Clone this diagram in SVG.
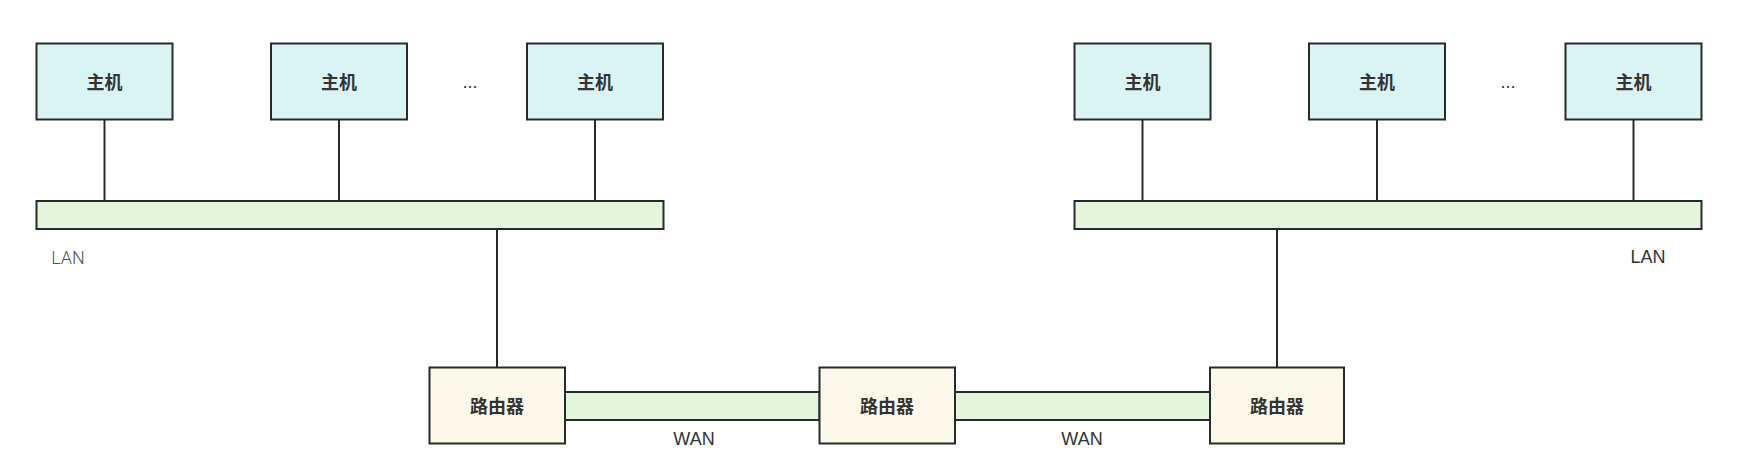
<svg xmlns="http://www.w3.org/2000/svg" width="1752" height="476" viewBox="0 0 1752 476">
<style>
.host{fill:#daf4f4;stroke:#262b2e;stroke-width:2}
.bar{fill:#e4f5dc;stroke:#262b2e;stroke-width:2}
.router{fill:#fcf8ea;stroke:#262b2e;stroke-width:2}
.lbl{font-family:"Noto Sans CJK SC","Noto Sans",sans-serif;font-size:18px;font-weight:600;fill:#333;text-anchor:middle;dominant-baseline:central}
.en{font-family:"Liberation Sans","Noto Sans",sans-serif;font-size:18px;fill:#333;text-anchor:middle;dominant-baseline:central}
.light{font-family:Roboto,"Liberation Sans",sans-serif;fill:#555;font-weight:300}
.conn line{stroke:#2a2a2a;stroke-width:2}
</style>
<rect width="1752" height="476" fill="#ffffff"/>
<g class="conn" id="connectors">
<line x1="104.5" y1="119.5" x2="104.5" y2="201"/>
<line x1="339" y1="119.5" x2="339" y2="201"/>
<line x1="595" y1="119.5" x2="595" y2="201"/>
<line x1="497" y1="229" x2="497" y2="367.5"/>
<line x1="1142.5" y1="119.5" x2="1142.5" y2="201"/>
<line x1="1377" y1="119.5" x2="1377" y2="201"/>
<line x1="1633.5" y1="119.5" x2="1633.5" y2="201"/>
<line x1="1277" y1="229" x2="1277" y2="367.5"/>
</g>
<g id="host1"><rect class="host" x="36.5" y="43.5" width="136" height="76"/><text class="lbl" x="104.5" y="80.5">主机</text></g>
<g id="host2"><rect class="host" x="271" y="43.5" width="136" height="76"/><text class="lbl" x="339" y="80.5">主机</text></g>
<g id="host3"><rect class="host" x="527" y="43.5" width="136" height="76"/><text class="lbl" x="595" y="80.5">主机</text></g>
<g id="dots1"><text class="en" x="470" y="82">...</text></g>
<g id="host4"><rect class="host" x="1074.5" y="43.5" width="136" height="76"/><text class="lbl" x="1142.5" y="80.5">主机</text></g>
<g id="host5"><rect class="host" x="1309" y="43.5" width="136" height="76"/><text class="lbl" x="1377" y="80.5">主机</text></g>
<g id="host6"><rect class="host" x="1565.5" y="43.5" width="136" height="76"/><text class="lbl" x="1633.5" y="80.5">主机</text></g>
<g id="dots2"><text class="en" x="1508" y="82">...</text></g>
<g id="lan1"><rect class="bar" x="36.5" y="201" width="627" height="28"/><text class="en light" x="68" y="257">LAN</text></g>
<g id="lan2"><rect class="bar" x="1074.5" y="201" width="627" height="28"/><text class="en" x="1648" y="257">LAN</text></g>
<g id="wan1"><rect class="bar" x="565" y="392" width="254.5" height="28"/><text class="en" x="694" y="438.5">WAN</text></g>
<g id="wan2"><rect class="bar" x="955" y="392" width="255" height="28"/><text class="en" x="1082" y="438.5">WAN</text></g>
<g id="router1"><rect class="router" x="429.5" y="367.5" width="135.5" height="76"/><text class="lbl" x="497" y="404.5">路由器</text></g>
<g id="router2"><rect class="router" x="819.5" y="367.5" width="135.5" height="76"/><text class="lbl" x="887" y="404.5">路由器</text></g>
<g id="router3"><rect class="router" x="1210" y="367.5" width="134" height="76"/><text class="lbl" x="1277" y="404.5">路由器</text></g>
</svg>
